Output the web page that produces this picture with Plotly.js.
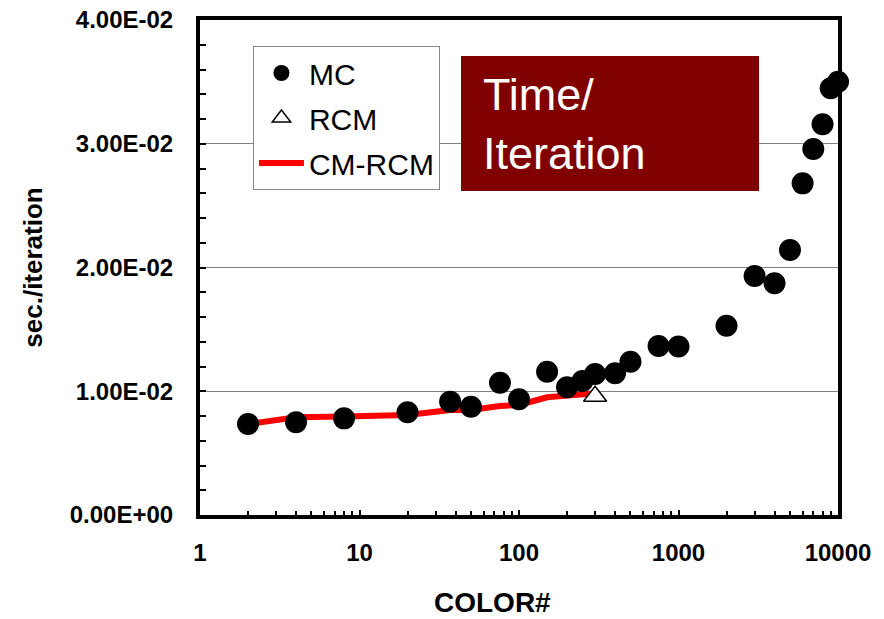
<!DOCTYPE html>
<html>
<head>
<meta charset="utf-8">
<script src="https://cdn.plot.ly/plotly-3.0.1.min.js"></script>
<style>html,body{margin:0;padding:0;background:#fff;}</style>
</head>
<body>
<div id="chart" style="width:884px;height:619px;"></div>
<script>
// ---- data ----
const mcColors = [2,4,8,20,37,50,76,100,150,200,250,300,400,500,750,1000,2000,3000,4000,5000,6000,7000,8000,9000,10000];
const mcTime   = [0.00735,0.00749,0.00781,0.00830,0.00916,0.00875,0.01069,0.00935,0.01158,0.01032,0.01083,0.01139,0.01145,0.01239,0.01366,0.01362,0.01530,0.01931,0.01872,0.02141,0.02680,0.02958,0.03157,0.03448,0.03501];

const rcmColors = [300];
const rcmTime   = [0.0096];

const cmrcmColors = [2,4,8,20,37,50,76,100,150,200,250,300];
const cmrcmTime   = [0.00735,0.00790,0.00795,0.00808,0.00848,0.00848,0.00881,0.00889,0.00951,0.00967,0.00975,0.00983];

const xTickVals = [1,10,100,1000,10000];
const xTickText = ['1','10','100','1000','10000'];
const yTickVals = [0,0.01,0.02,0.03,0.04];
const yTickText = ['0.00E+00','1.00E-02','2.00E-02','3.00E-02','4.00E-02'];

const FONT = 'Liberation Sans, Arial, sans-serif';

const traces = [
  {
    x: cmrcmColors, y: cmrcmTime, name: 'CM-RCM', type: 'scatter', mode: 'lines',
    line: {color: '#ff0000', width: 6},
    legendrank: 3, legendgroup: 'c'
  },
  {
    x: mcColors, y: mcTime, name: 'MC', type: 'scatter', mode: 'markers',
    marker: {symbol: 'circle', size: 22, color: '#000000'},
    cliponaxis: false, legendrank: 1, legendgroup: 'a'
  },
  {
    x: rcmColors, y: rcmTime, name: 'RCM', type: 'scatter', mode: 'markers',
    marker: {symbol: 'triangle-up', size: 20, color: '#ffffff', line: {color: '#000000', width: 1.5}},
    cliponaxis: false, legendrank: 2, legendgroup: 'b'
  }
];

const layout = {
  width: 884, height: 619,
  margin: {l: 200, r: 46, t: 20, b: 104},
  paper_bgcolor: '#ffffff', plot_bgcolor: '#ffffff',
  font: {family: FONT, color: '#000000'},
  showlegend: true,
  legend: {
    x: 0.083, y: 0.9475, xanchor: 'left', yanchor: 'top',
    bgcolor: '#ffffff', bordercolor: '#888888', borderwidth: 1,
    font: {family: FONT, size: 30, color: '#000000'},
    itemwidth: 45, tracegroupgap: 3, traceorder: 'grouped'
  },
  xaxis: {
    type: 'log', range: [0, 4],
    tickmode: 'array', tickvals: xTickVals, ticktext: xTickText,
    ticks: 'inside', ticklen: 5, tickwidth: 2, tickcolor: '#000000',
    showline: true, linewidth: 4, linecolor: '#000000', mirror: true,
    showgrid: false, zeroline: false,
    tickfont: {family: FONT, size: 24, color: '#000000', weight: 'bold'},
    ticklabelstandoff: 13,
    minor: {ticks: 'inside', ticklen: 4, tickwidth: 2, tickcolor: '#000000', dtick: 'D1', showgrid: false}
  },
  yaxis: {
    range: [0, 0.04],
    tickmode: 'array', tickvals: yTickVals, ticktext: yTickText,
    ticks: 'inside', ticklen: 6, tickwidth: 2, tickcolor: '#000000',
    showline: true, linewidth: 4, linecolor: '#000000', mirror: true,
    showgrid: true, gridcolor: '#808080', gridwidth: 1, zeroline: false,
    tickfont: {family: FONT, size: 24, color: '#000000', weight: 'bold'},
    ticklabelstandoff: 18,
    minor: {ticks: 'inside', ticklen: 6, tickwidth: 2, tickcolor: '#000000', dtick: 0.002, showgrid: false},
    title: {text: 'sec./iteration', font: {family: FONT, size: 26, color: '#000000', weight: 'bold'}, standoff: 21}
  },
  shapes: [
    {type: 'rect', xref: 'paper', yref: 'paper', x0: 0.4091, x1: 0.8762, y0: 0.6545, y1: 0.9273,
     fillcolor: '#800000', line: {width: 0}, layer: 'above'}
  ],
  annotations: [
    {xref: 'paper', yref: 'paper', x: 0.4405, y: 0.790, xanchor: 'left', yanchor: 'middle',
     text: 'Time/<br>Iteration', align: 'left', showarrow: false,
     font: {family: FONT, size: 45, color: '#ffffff'}},
    {xref: 'paper', yref: 'paper', x: 0.459, y: -0.176, xanchor: 'center', yanchor: 'middle',
     text: 'COLOR#', showarrow: false,
     font: {family: FONT, size: 28, color: '#000000', weight: 'bold'}}
  ]
};

Plotly.newPlot('chart', traces, layout, {displayModeBar: false, staticPlot: true});
</script>
</body>
</html>
